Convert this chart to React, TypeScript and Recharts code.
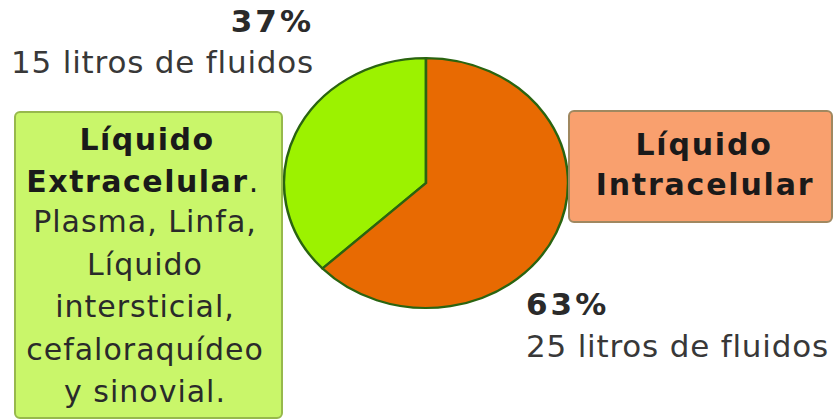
import React from 'react';
import { PieChart, Pie, Cell } from 'recharts';

const NAMES = ['Líquido Extracelular', 'Líquido Intracelular'];
const PERCENTS = [37, 63];
const LITROS = [15, 25];
const COLORS = ['#9cf200', '#e86a02'];

const EXTRA_LINES = ['Plasma, Linfa,', 'Líquido', 'intersticial,', 'cefaloraquídeo', 'y sinovial.'];

const data = NAMES.map((name, i) => ({ name, value: PERCENTS[i], litros: LITROS[i] }));

const FONT = '"DejaVu Sans", Verdana, sans-serif';

const App: React.FC = () => {
  return (
    <div style={{ position: 'absolute', left: 0, top: 0, width: 833, height: 420, background: '#fff', overflow: 'hidden', fontFamily: FONT }}>
      <div style={{ position: 'absolute', left: 0, top: 0, transform: 'scale(1, 0.88)', transformOrigin: '426px 183px' }}>
        <PieChart width={833} height={420} margin={{ top: 0, right: 0, bottom: 0, left: 0 }}>
          <Pie
            data={data}
            dataKey="value"
            nameKey="name"
            cx={426}
            cy={183}
            outerRadius={142}
            startAngle={90}
            endAngle={450}
            stroke="#2a6410"
            strokeWidth={2.5}
            isAnimationActive={false}
          >
            {data.map((entry, index) => (
              <Cell key={`cell-${index}`} fill={COLORS[index]} />
            ))}
          </Pie>
        </PieChart>
      </div>

      <svg width={833} height={420} style={{ position: 'absolute', left: 0, top: 0, pointerEvents: 'none' }} fontFamily={FONT}>
        {/* top-left label */}
        <text x={314} y={32} textAnchor="end" fontSize={31} fontWeight="bold" fill="#2a2a2a" letterSpacing={3}>{data[0].value}%</text>
        <text x={314} y={73} textAnchor="end" fontSize={31} fill="#383838" letterSpacing={0.8}>{data[0].litros} litros de fluidos</text>

        {/* bottom-right label */}
        <text x={526} y={315} fontSize={31} fontWeight="bold" fill="#2a2a2a" letterSpacing={3}>{data[1].value}%</text>
        <text x={526} y={357} fontSize={31} fill="#383838" letterSpacing={0.8}>{data[1].litros} litros de fluidos</text>

        {/* left box */}
        <rect x={15} y={112} width={267} height={306} rx={5} fill="#c9f66a" stroke="#97b94c" strokeWidth={2} />
        <text x={147} y={150} textAnchor="middle" fontSize={30} fontWeight="bold" fill="#1a1a1a" letterSpacing={1.5}>Líquido</text>
        <text x={143} y={192} textAnchor="middle" fontSize={30} fill="#1a1a1a" letterSpacing={1.5}>
          <tspan fontWeight="bold">Extracelular</tspan>.
        </text>
        {EXTRA_LINES.map((line, i) => (
          <text key={line + i} x={145} y={232 + i * 42.5} textAnchor="middle" fontSize={30} fill="#2a2a2a" letterSpacing={1}>{line}</text>
        ))}

        {/* right box */}
        <rect x={569} y={111} width={263} height={111} rx={5} fill="#f9a06e" stroke="#a08860" strokeWidth={2} />
        <text x={704} y={155} textAnchor="middle" fontSize={30} fontWeight="bold" fill="#1a1a1a" letterSpacing={1.8}>Líquido</text>
        <text x={705} y={195} textAnchor="middle" fontSize={30} fontWeight="bold" fill="#1a1a1a" letterSpacing={1.8}>Intracelular</text>
      </svg>
    </div>
  );
};

export default App;
